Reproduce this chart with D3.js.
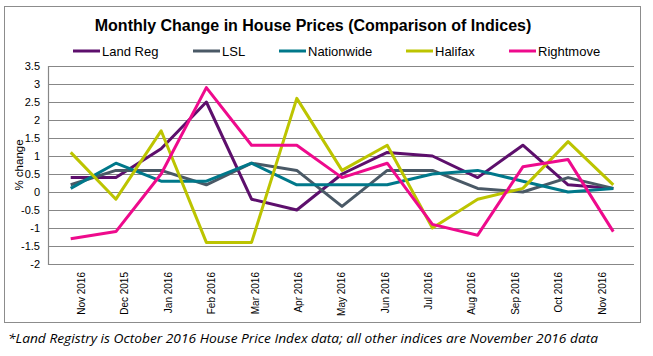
<!DOCTYPE html>
<html>
<head>
<meta charset="utf-8">
<script src="https://cdn.jsdelivr.net/npm/d3@7"></script>
<style>
  html, body { margin: 0; padding: 0; background: #fff; }
  svg { display: block; }
</style>
</head>
<body>
<svg id="chart" width="653" height="356"></svg>
<script>
const categories = ["Nov 2016","Dec 2015","Jan 2016","Feb 2016","Mar 2016","Apr 2016","May 2016","Jun 2016","Jul 2016","Aug 2016","Sep 2016","Oct 2016","Nov 2016"];
const landReg    = [0.4, 0.4, 1.2, 2.5, -0.2, -0.5, 0.5, 1.1, 1.0, 0.4, 1.3, 0.2, 0.1];
const lsl        = [0.2, 0.6, 0.6, 0.2, 0.8, 0.6, -0.4, 0.6, 0.6, 0.1, 0.0, 0.4, 0.1];
const nationwide = [0.1, 0.8, 0.3, 0.3, 0.8, 0.2, 0.2, 0.2, 0.5, 0.6, 0.3, 0.0, 0.1];
const halifax    = [1.1, -0.2, 1.7, -1.4, -1.4, 2.6, 0.6, 1.3, -1.0, -0.2, 0.1, 1.4, 0.2];
const rightmove  = [-1.3, -1.1, 0.5, 2.9, 1.3, 1.3, 0.4, 0.8, -0.9, -1.2, 0.7, 0.9, -1.1];
const seriesNames = ["Land Reg", "LSL", "Nationwide", "Halifax", "Rightmove"];
const seriesColors = ["#5d0f6c", "#4a5966", "#00788a", "#bcc400", "#ee0a8c"];
const yTicks = [-2, -1.5, -1, -0.5, 0, 0.5, 1, 1.5, 2, 2.5, 3, 3.5];
const titleText = "Monthly Change in House Prices (Comparison of Indices)";
const yAxisTitle = "% change";
const footnote = "*Land Registry is October 2016 House Price Index data; all other indices are November 2016 data";

const seriesValues = [landReg, lsl, nationwide, halifax, rightmove];

const svg = d3.select("#chart");
const plot = { left: 48, right: 634, top: 66, bottom: 264 };

// outer chart frame
svg.append("rect")
  .attr("x", 4.5).attr("y", 6.5).attr("width", 636).attr("height", 316)
  .attr("fill", "#fff").attr("stroke", "#8c8c8c").attr("stroke-width", 1);

const idx = d3.range(categories.length);
const x = d3.scalePoint().domain(idx).range([70.7, 613.3]);
const xLabel = d3.scalePoint().domain(idx).range([81, 601.5]);
const y = d3.scaleLinear().domain([-2, 3.5]).range([plot.bottom, plot.top]);

// gridlines
svg.append("g")
  .selectAll("line")
  .data(yTicks)
  .join("line")
  .attr("x1", plot.left).attr("x2", plot.right)
  .attr("y1", d => Math.round(y(d)) + 0.5).attr("y2", d => Math.round(y(d)) + 0.5)
  .attr("stroke", "#878787").attr("stroke-width", 1.2);

// y axis
const yAxis = d3.axisLeft(y).tickValues(yTicks).tickSize(0).tickPadding(8)
  .tickFormat(d => String(d));
const yg = svg.append("g").attr("transform", `translate(${plot.left},0)`).call(yAxis);
yg.select(".domain").remove();
yg.selectAll("text")
  .attr("font-family", "Liberation Sans, Arial, sans-serif")
  .attr("font-size", 11).attr("fill", "#000");
svg.append("line")
  .attr("x1", plot.left + 0.5).attr("x2", plot.left + 0.5)
  .attr("y1", plot.top).attr("y2", plot.bottom + 1)
  .attr("stroke", "#878787").attr("stroke-width", 1.2);

// x axis labels
const xAxis = d3.axisBottom(xLabel).tickSize(0).tickFormat(i => categories[i]);
const xg = svg.append("g").attr("transform", `translate(0,${plot.bottom})`).call(xAxis);
xg.select(".domain").remove();
xg.selectAll("text")
  .attr("font-family", "Liberation Sans, Arial, sans-serif")
  .attr("font-size", 10).attr("fill", "#000")
  .attr("text-anchor", "end")
  .attr("transform", "rotate(-90)")
  .attr("x", -8).attr("y", 0).attr("dy", "0.35em");

// y axis title
svg.append("text")
  .attr("transform", `translate(23,${(plot.top + plot.bottom) / 2}) rotate(-90)`)
  .attr("text-anchor", "middle")
  .attr("font-family", "Liberation Sans, Arial, sans-serif")
  .attr("font-size", 11.5).attr("fill", "#000")
  .text(yAxisTitle);

// lines
const line = d3.line().x((d, i) => x(i)).y(d => y(d));
svg.append("g")
  .selectAll("path")
  .data(seriesValues)
  .join("path")
  .attr("d", d => line(d))
  .attr("fill", "none")
  .attr("stroke", (d, i) => seriesColors[i])
  .attr("stroke-width", 3)
  .attr("stroke-linejoin", "round");

// title
svg.append("text")
  .attr("x", 313).attr("y", 31)
  .attr("text-anchor", "middle")
  .attr("font-family", "Liberation Sans, Arial, sans-serif")
  .attr("font-weight", "bold").attr("font-size", 16).attr("fill", "#000")
  .text(titleText);

// legend
const legendX = [73, 193, 279, 406, 509];
const lg = svg.append("g").selectAll("g").data(seriesNames).join("g")
  .attr("transform", (d, i) => `translate(${legendX[i]},51)`);
lg.append("line").attr("x1", 0).attr("x2", 27).attr("y1", 0).attr("y2", 0)
  .attr("stroke", (d, i) => seriesColors[i]).attr("stroke-width", 3);
lg.append("text").attr("x", 29).attr("y", 0).attr("dy", "0.35em")
  .attr("font-family", "Liberation Sans, Arial, sans-serif")
  .attr("font-size", 13).attr("fill", "#000")
  .text(d => d);

// footnote
svg.append("text")
  .attr("x", 8).attr("y", 343)
  .attr("font-family", "Open Sans, sans-serif")
  .attr("font-style", "italic").attr("font-size", 13).attr("fill", "#000")
  .attr("textLength", 590).attr("lengthAdjust", "spacingAndGlyphs")
  .text(footnote);
</script>
</body>
</html>
